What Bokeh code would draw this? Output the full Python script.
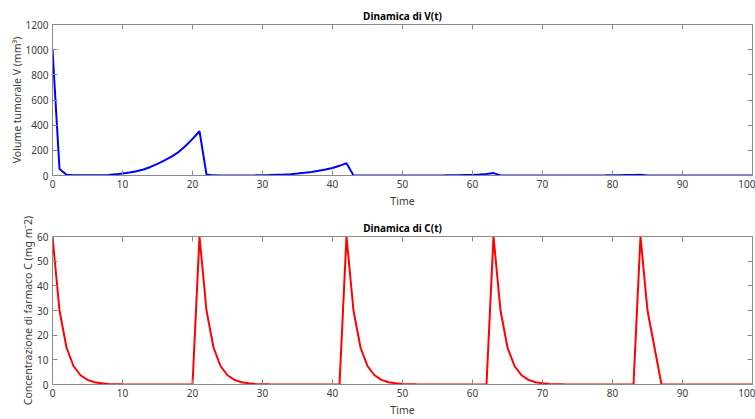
from bokeh.plotting import figure
from bokeh.models import Range1d, LinearAxis, Title, ColumnDataSource, FixedTicker
from bokeh.layouts import column
from bokeh.embed import file_html
from bokeh.resources import INLINE

# ---- data ----
time = list(range(0, 101))

volume = [
    1000, 52, 6, 2, 1, 1, 1.5, 2.5, 4, 9,            # 0-9
    16, 24, 34, 48, 68, 92, 120, 150, 186, 234,      # 10-19
    291, 352, 7, 1, 0.5, 0.3, 0.3, 0.4, 0.6, 1,      # 20-29
    2, 3, 5, 7, 10, 15, 21, 28, 37, 47,              # 30-39
    60, 77, 98, 1, 0.3, 0.2, 0.2, 0.2, 0.2, 0.2,     # 40-49
    0.2, 0.2, 0.3, 0.4, 0.5, 0.7, 1, 1.5, 2, 3,      # 50-59
    4, 7, 12, 19, 0.5, 0.2, 0.2, 0.2, 0.2, 0.2,      # 60-69
    0.2, 0.2, 0.2, 0.2, 0.3, 0.4, 0.5, 0.6, 0.8, 1,  # 70-79
    1.5, 2, 3, 4, 5, 0.3, 0.1, 0.1, 0.1, 0.1,        # 80-89
    0.1, 0.1, 0.1, 0.1, 0.1, 0.1, 0.1, 0.1, 0.1, 0.1,  # 90-99
    0.1,                                             # 100
]

concentration = [
    60, 30, 15, 7.5, 3.75, 1.88, 0.94, 0.47, 0.23, 0.12,    # 0-9
    0.06, 0.03, 0.01, 0, 0, 0, 0, 0, 0, 0,                  # 10-19
    0, 60, 30, 15, 7.5, 3.75, 1.88, 0.94, 0.47, 0.23,       # 20-29
    0.12, 0.06, 0.03, 0.01, 0, 0, 0, 0, 0, 0,               # 30-39
    0, 0, 60, 30, 15, 7.5, 3.75, 1.88, 0.94, 0.47,          # 40-49
    0.23, 0.12, 0.06, 0.03, 0.01, 0, 0, 0, 0, 0,            # 50-59
    0, 0, 0, 60, 30, 15, 7.5, 3.75, 1.88, 0.94,             # 60-69
    0.47, 0.23, 0.12, 0.06, 0.03, 0.01, 0, 0, 0, 0,         # 70-79
    0, 0, 0, 0, 60, 30, 15, 0, 0, 0,                        # 80-89
    0, 0, 0, 0, 0, 0, 0, 0, 0, 0,                           # 90-99
    0,                                                      # 100
]

x_ticks = [0, 10, 20, 30, 40, 50, 60, 70, 80, 90, 100]
v_ticks = [0, 200, 400, 600, 800, 1000, 1200]
c_ticks = [0, 10, 20, 30, 40, 50, 60]

FONT = "Noto Sans"
AXC = "#8a8a8a"
TXT = "#3c3c3c"


def style_axis(ax, ticks, labels=True):
    ax.ticker = FixedTicker(ticks=ticks)
    ax.axis_line_color = AXC
    ax.axis_line_width = 1
    ax.major_tick_line_color = AXC
    ax.major_tick_in = 5
    ax.major_tick_out = 0
    ax.minor_tick_line_color = None
    ax.major_label_text_font = FONT
    ax.axis_label_text_font = FONT
    ax.axis_label_text_color = TXT
    ax.axis_label_text_font_style = "normal"
    ax.axis_label_text_font_size = "10.5px"
    if labels:
        ax.major_label_text_color = TXT
        ax.major_label_text_font_size = "10px"
        ax.major_label_standoff = 4
        ax.axis_label_standoff = -1
    else:
        ax.major_label_text_color = None
        ax.major_label_text_font_size = "1px"
        ax.major_label_standoff = 0


def make(y, ymax, yticks, title, ylabel, color, h, top, bottom):
    src = ColumnDataSource(dict(t=time, y=y))
    p = figure(width=755, height=h, output_backend="svg", toolbar_location=None,
               x_range=Range1d(0, 100), y_range=Range1d(0, ymax),
               min_border_left=52, min_border_right=3,
               min_border_top=top, min_border_bottom=bottom)
    p.outline_line_color = AXC
    p.outline_line_width = 1
    p.grid.visible = False
    p.background_fill_color = "white"
    p.border_fill_color = "white"

    style_axis(p.xaxis[0], x_ticks)
    style_axis(p.yaxis[0], yticks)
    p.xaxis[0].axis_label_standoff = 3
    p.xaxis.axis_label = "Time"
    p.yaxis.axis_label = ylabel

    top_ax = LinearAxis()
    style_axis(top_ax, x_ticks, labels=False)
    p.add_layout(top_ax, "above")
    right_ax = LinearAxis()
    style_axis(right_ax, yticks, labels=False)
    p.add_layout(right_ax, "right")

    p.add_layout(Title(text=title, align="center", text_font=FONT,
                       text_font_size="10px", text_font_style="bold",
                       text_color="#000000", standoff=3), "above")

    p.line("t", "y", source=src, line_color=color, line_width=2)
    return p


p1 = make(volume, 1200, v_ticks, "Dinamica di V(t)",
          "Volume tumorale V (mm\u00b3)", "#0000ff", 210, 24, 33)
p2 = make(concentration, 60, c_ticks, "Dinamica di C(t)",
          "Concentrazione di farmaco C (mg m\u207b2)", "#ff0000", 209, 26, 31)

layout = column(p1, p2, spacing=0)
open("out.html", "w").write(file_html(layout, INLINE))
